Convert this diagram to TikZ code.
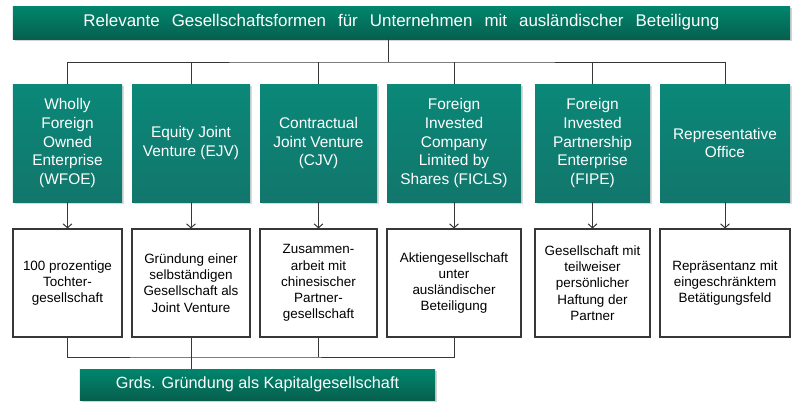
\documentclass[tikz,border=0pt]{standalone}
\usepackage{fontspec}
\setmainfont{Liberation Sans}
\usepackage{xcolor}
\usetikzlibrary{arrows.meta,shadows}

\definecolor{kopfgruen}{RGB}{0,134,110}
\definecolor{kopfdunkel}{RGB}{6,96,78}
\definecolor{formgruen}{RGB}{10,136,120}
\definecolor{formdunkel}{RGB}{18,118,108}
\definecolor{linie}{RGB}{55,55,55}

\tikzset{
	kopf/.style={draw=none, top color=kopfgruen, bottom color=kopfdunkel, text=white,
		minimum height=33bp, inner sep=0pt,
		drop shadow={shadow xshift=2bp, shadow yshift=-2bp, opacity=.35, fill=gray}},
	form/.style={draw=none, top color=formgruen, bottom color=formdunkel, text=white,
		minimum height=118bp, inner sep=0pt, align=center, font=\fontsize{15.5}{19}\selectfont,
		drop shadow={shadow xshift=2bp, shadow yshift=-2bp, opacity=.3, fill=gray}},
	info/.style={draw=linie, line width=1.1bp, fill=white, minimum height=108bp,
		inner sep=0pt, align=center, font=\fontsize{13.5}{16.3}\selectfont},
	verb/.style={draw=linie, line width=1bp},
	pfeil/.style={verb, -{Straight Barb[length=4bp,width=9bp]}}
}

\begin{document}
		\begin{tikzpicture}[x=1bp,y=1bp]
			\useasboundingbox (0,0) rectangle (797,-407);

			\node[kopf, minimum width=777bp] (titel) at (401.5,-22.5)
			{\fontsize{17}{20}\selectfont\makebox[636bp][s]{Relevante Gesellschaftsformen für Unternehmen mit ausländischer Beteiligung}};

			% Gesellschaftsformen
			\node[form, minimum width=109bp] (wfoe) at (67.5,-143) {Wholly\\Foreign\\Owned\\Enterprise\\(WFOE)};
			\node[form, minimum width=118bp] (ejv) at (191,-143) {Equity Joint\\Venture (EJV)};
			\node[form, minimum width=117bp] (cjv) at (318.5,-143) {Contractual\\Joint Venture\\(CJV)};
			\node[form, minimum width=134bp] (ficls) at (454,-143) {Foreign\\Invested\\Company\\Limited by\\Shares (FICLS)};
			\node[form, minimum width=115bp] (fipe) at (592.5,-143) {Foreign\\Invested\\Partnership\\Enterprise\\(FIPE)};
			\node[form, minimum width=130bp] (ro) at (725,-143) {Representative\\Office};

			% Beschreibungen
			\node[info, minimum width=109bp] (wfoeinfo) at (67.5,-283) {100 prozentige\\Tochter-\\gesellschaft};
			\node[info, minimum width=118bp] (ejvinfo) at (191,-283) {Gründung einer\\selbständigen\\Gesellschaft als\\Joint Venture};
			\node[info, minimum width=117bp] (cjvinfo) at (318.5,-283) {Zusammen-\\arbeit mit\\chinesischer\\Partner-\\gesellschaft};
			\node[info, minimum width=134bp] (ficlsinfo) at (454,-283) {Aktiengesellschaft\\unter\\ausländischer\\Beteiligung};
			\node[info, minimum width=115bp] (fipeinfo) at (592.5,-283) {Gesellschaft mit\\teilweiser\\persönlicher\\Haftung der\\Partner};
			\node[info, minimum width=130bp] (roinfo) at (725,-283) {Repräsentanz mit\\eingeschränktem\\Betätigungsfeld};

			\node[kopf, minimum width=355bp, minimum height=31bp] (kapital) at (257.5,-384.5)
			{\fontsize{16.3}{19}\selectfont Grds. Gründung als Kapitalgesellschaft};

			\coordinate (oben) at (388,-62);
			\coordinate (unten) at (191,-357);

			\draw[verb] (oben |- titel.south) -- (oben);
			\draw[verb] (wfoe.north) |- (oben) -| (ro.north);
			\foreach \n in {ejv,cjv,ficls,fipe}
				\draw[verb] (\n.north) -- (\n.north |- oben);

			\foreach \n in {wfoe,ejv,cjv,ficls,fipe,ro}
				\draw[pfeil] (\n.south) -- (\n info.north);

			\draw[verb] (wfoeinfo.south) |- (unten) -| (ficlsinfo.south);
			\draw[verb] (cjvinfo.south) -- (cjvinfo.south |- unten);
			\draw[verb] (ejvinfo.south) -- (ejvinfo.south |- kapital.north);
		\end{tikzpicture}
\end{document}
